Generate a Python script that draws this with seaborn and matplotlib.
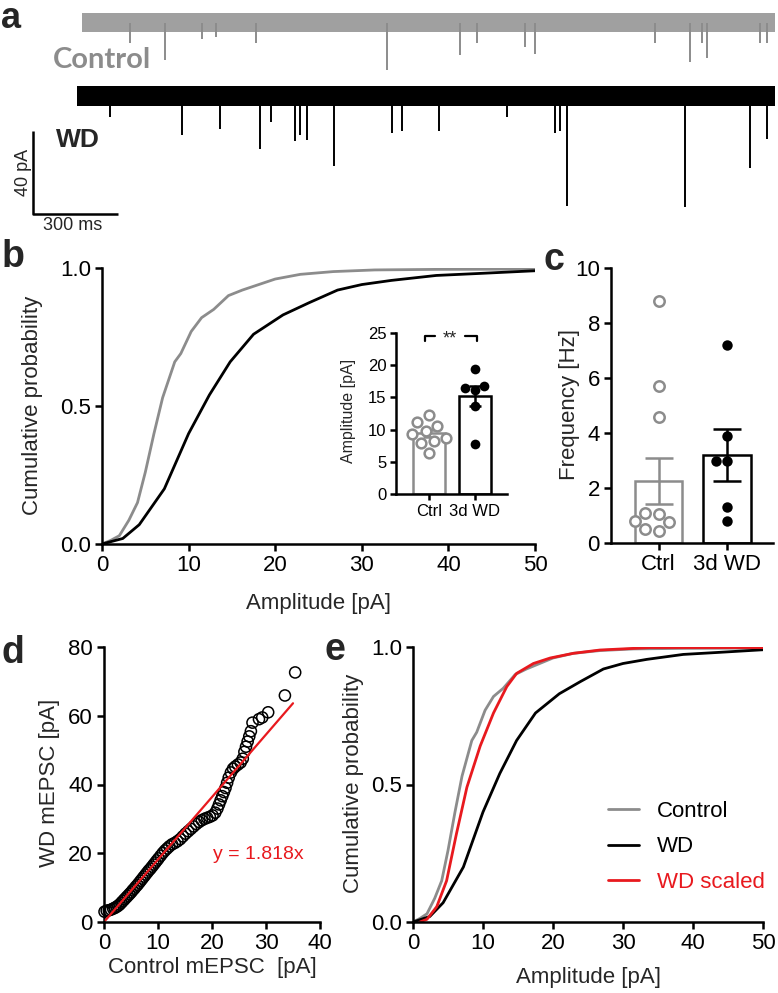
import matplotlib
matplotlib.use("Agg")
import matplotlib.pyplot as plt
import numpy as np
import pandas as pd
import seaborn as sns

# panel a: noise band extent and miniature events (ms, pA)
ctrl_trace_ms = [173, 2619]
ctrl_event_ms = [342, 466, 597, 646, 787, 1250, 1507, 1567, 1737, 1772, 2196, 2319, 2361, 2379, 2566, 2591]
ctrl_event_pa = [10, 18, 8, 7, 10, 23, 15.5, 10, 12, 15, 10, 19, 10, 17, 10, 10]
wd_trace_ms = [155, 2619]
wd_event_ms = [272, 526, 660, 801, 840, 925, 942, 967, 1062, 1267, 1302, 1433, 1673, 1843, 1860, 1885, 2301, 2531, 2591]
wd_event_pa = [10, 19, 16, 25.5, 12.5, 22, 19, 21.5, 34, 18, 17, 17, 10, 18, 17, 53, 53.5, 35, 21]

# panels b / e: cumulative amplitude distributions
ctrl_amp = [0, 1, 2, 3.1, 4.1, 5.0, 6.0, 7.0, 8.4, 9.1, 10.3, 11.5, 12.9, 14.6, 16.2, 18.1, 20.0, 22.9, 26.7, 31.5, 38.6, 50]
ctrl_cdf = [0, .013, .03, .086, .15, .26, .40, .53, .66, .69, .77, .82, .85, .90, .92, .94, .96, .977, .987, .993, .995, .996]
wd_amp = [0, 2.4, 4.3, 7.2, 10, 12.4, 14.8, 17.5, 20.9, 23.9, 27.2, 30, 33.4, 38.6, 43.4, 50]
wd_cdf = [0, .02, .07, .2, .4, .54, .66, .76, .83, .874, .92, .94, .955, .973, .98, .99]
scaled_amp = [1, 2, 3.4, 4.8, 6.2, 7.7, 9.6, 11.5, 13.4, 14.8, 17.2, 19.6, 22.9, 26.7, 33.9, 50]
scaled_cdf = [0, .01, .056, .15, .32, .49, .64, .76, .856, .904, .94, .96, .977, .989, .998, .998]

# inset of b: mean amplitude per cell
groups = ["Ctrl", "3d WD"]
amp_mean = [9.4, 15.2]
amp_sem = [0.6, 1.6]
amp_ctrl = [12.2, 11.2, 10.6, 9.8, 9.3, 8.7, 8.3, 7.9, 6.4]
amp_wd = [19.4, 16.8, 16.4, 16.2, 13.6, 7.8]

# panel c: frequency per cell
freq_mean = [2.25, 3.2]
freq_sem = [0.84, 0.93]
freq_ctrl = [8.8, 5.7, 4.6, 1.1, 1.05, 0.8, 0.75, 0.5, 0.45]
freq_wd = [7.2, 3.9, 3.0, 3.0, 1.3, 0.8]

# panel d: quantile-quantile pairs
qq_ctrl = [0.1, 0.5, 0.9, 1.3, 1.7, 2.0, 2.3, 2.6, 2.9, 3.2, 3.5, 3.8, 4.1, 4.4, 4.7, 5.0, 5.3, 5.6, 5.9,
           6.2, 6.5, 6.8, 7.1, 7.4, 7.7, 8.0, 8.3, 8.6, 8.9, 9.2, 9.5, 9.8, 10.1, 10.5, 10.9, 11.3, 11.7,
           12.1, 12.6, 13.1, 13.6, 14.1, 14.6, 15.1, 15.6, 16.1, 16.6, 17.1, 17.6, 18.1, 18.6, 19.1, 19.6,
           20.1, 20.6, 21.0, 21.3, 21.6, 21.9, 22.2, 22.5, 22.8, 23.1, 23.5, 23.9, 24.3, 24.8, 25.3, 25.7,
           26.0, 26.3, 26.6, 26.9, 27.2, 27.5, 28.7, 29.3, 30.4, 33.5, 35.4]
qq_wd = [3.0, 3.3, 3.4, 3.6, 3.9, 4.1, 4.4, 4.7, 5.1, 5.6, 6.1, 6.6, 7.1, 7.6, 8.1, 8.6, 9.2, 9.7, 10.3,
         10.8, 11.4, 12.0, 12.6, 13.2, 13.8, 14.4, 15.0, 15.5, 16.1, 16.7, 17.3, 17.9, 18.5, 19.3, 20.1, 20.8, 21.4,
         22.0, 22.6, 23.0, 23.5, 24.1, 24.9, 25.7, 26.4, 27.1, 27.8, 28.5, 29.1, 29.6, 30.0, 30.3, 30.6,
         31.0, 31.8, 33.0, 34.2, 35.4, 36.6, 37.8, 39.0, 40.5, 42.0, 43.5, 44.6, 45.2, 45.8, 46.4, 47.5,
         49.5, 51.0, 52.5, 54.0, 55.5, 58.0, 59.0, 59.5, 61.0, 65.9, 72.6]
fit_slope = 1.818
fit_x = [0.3, 35]

GRAY = "#8c8c8c"
RED = "#e8191e"

sns.set_theme(style="ticks")
plt.rcParams["font.family"] = ["Liberation Sans", "DejaVu Sans"]

W, H = 778, 993
fig = plt.figure(figsize=(W / 100, H / 100), dpi=100)


def box(x0, y0, x1, y1):
    return fig.add_axes([x0 / W, 1 - y1 / H, (x1 - x0) / W, (y1 - y0) / H])


def put(x, y, s, **kw):
    kw.setdefault("ha", "center"); kw.setdefault("va", "center")
    fig.text(x / W, 1 - y / H, s, **kw)


def style(ax, size=16, lw=1.8, length=5):
    sns.despine(ax=ax)
    for side in ("left", "bottom"):
        ax.spines[side].set_linewidth(lw)
        ax.spines[side].set_color("black")
    ax.tick_params(width=lw, length=length, labelsize=size, pad=3, colors="black")
    ax.set_xlabel(""); ax.set_ylabel("")


def letter(x, y, s, size=27):
    # y is the baseline
    put(x, y, s, weight="bold", fontsize=size, va="baseline")


# ---- a: example traces
ax = box(0, 0, 778, 235)
ax.set_xlim(-116.5, 2629.6); ax.set_ylim(-102.7, 10.9); ax.axis("off")
WD_OFFSET = -35.5
ax.fill_between(ctrl_trace_ms, -4.6, 4.6, color="#a0a0a0", lw=0)
ax.vlines(ctrl_event_ms, 0, -np.array(ctrl_event_pa), color=GRAY, lw=1.4)
ax.fill_between(wd_trace_ms, WD_OFFSET - 4.8, WD_OFFSET + 4.8, color="black", lw=0)
ax.vlines(wd_event_ms, WD_OFFSET, WD_OFFSET - np.array(wd_event_pa), color="black", lw=1.4)
ax.plot([0, 0, 300], [-52.5, -92.5, -92.5], color="black", lw=1.8, solid_capstyle="butt")
letter(11, 27.5, "a", size=26)
put(102, 68, "Control", family=["Lato", "DejaVu Sans"], weight="bold", fontsize=21, color=GRAY, va="baseline")
put(78, 147, "WD", weight="bold", fontsize=19, va="baseline")
put(23, 172, "40 pA", fontsize=13, rotation=90)
put(73, 226, "300 ms", fontsize=13)


def cdf(ax, amp, prob, color):
    sns.lineplot(x=amp, y=prob, color=color, lw=2, sort=False, estimator=None, ax=ax)


# ---- b: cumulative distributions
ax = box(102, 268, 535, 544)
cdf(ax, ctrl_amp, ctrl_cdf, GRAY)
cdf(ax, wd_amp, wd_cdf, "black")
ax.set_xlim(0, 50); ax.set_ylim(0, 1)
ax.set_xticks(range(0, 51, 10)); ax.set_yticks([0, 0.5, 1])
ax.set_yticklabels(["0.0", "0.5", "1.0"])
style(ax)
letter(13, 267, "b")
put(33, 405, "Cumulative probability", fontsize=16, rotation=90)
put(318, 603, "Amplitude [pA]", fontsize=16)


def bars(ax, mean, sem, ctrl, wd, size, capsize, lw):
    sns.barplot(x=groups, y=mean, hue=groups, palette=[GRAY, "black"], fill=False,
                linewidth=lw, width=0.7, legend=False, ax=ax)
    for i, c in enumerate([GRAY, "black"]):
        ax.errorbar(i, mean[i], yerr=sem[i], color=c, lw=lw, capsize=capsize, capthick=lw, zorder=3)
    pts = pd.DataFrame({"group": ["Ctrl"] * len(ctrl) + ["3d WD"] * len(wd), "value": ctrl + wd})
    sns.swarmplot(data=pts[pts.group == "Ctrl"], x="group", y="value", order=groups, color="white",
                  edgecolor=GRAY, linewidth=lw, size=size, ax=ax, zorder=4)
    sns.swarmplot(data=pts[pts.group == "3d WD"], x="group", y="value", order=groups, color="black",
                  size=size, ax=ax, zorder=4)


# ---- b inset: mean amplitude
ax = box(396, 333, 507, 494)
bars(ax, amp_mean, amp_sem, amp_ctrl, amp_wd, 7.0, 4, 1.8)
ax.set_xlim(-0.72, 1.7); ax.set_ylim(0, 25)
ax.set_yticks(range(0, 26, 5))
style(ax, size=12, length=4)
ax.plot([-0.09, -0.09, 0.13], [23.7, 24.5, 24.5], color="black", lw=1.6, clip_on=False)
ax.plot([0.78, 1.04, 1.04], [24.5, 24.5, 23.7], color="black", lw=1.6, clip_on=False)
ax.text(0.46, 24.0, "**", ha="center", va="center", fontsize=13)
put(348, 411, "Amplitude [pA]", fontsize=11.5, rotation=90)

# ---- c: frequency
ax = box(611, 268, 773, 543)
bars(ax, freq_mean, freq_sem, freq_ctrl, freq_wd, 7.5, 10, 1.8)
ax.set_xlim(-0.7, 1.68); ax.set_ylim(0, 10)
ax.set_yticks(range(0, 11, 2))
style(ax)
letter(554, 270, "c")
put(569, 405, "Frequency [Hz]", fontsize=16, rotation=90)

# ---- d: quantile-quantile
ax = box(104, 647, 320, 922)
sns.scatterplot(x=qq_ctrl, y=qq_wd, marker="o", s=64, facecolor="none", edgecolor="black",
                linewidth=1.1, ax=ax, zorder=3, clip_on=False)
sns.lineplot(x=fit_x, y=[fit_slope * v for v in fit_x], color=RED, lw=1.6, ax=ax, zorder=4)
ax.set_xlim(0, 40); ax.set_ylim(0, 80)
ax.set_xticks(range(0, 41, 10)); ax.set_yticks(range(0, 81, 20))
style(ax)
ax.text(28.6, 19.5, "y = 1.818x", color=RED, fontsize=14, ha="center", va="center")
letter(13, 663, "d")
put(50, 783, "WD mEPSC [pA]", fontsize=16, rotation=90)
put(212, 967, "Control mEPSC  [pA]", fontsize=16)

# ---- e: scaled distribution
ax = box(413, 647, 763, 922)
ax.plot(ctrl_amp, ctrl_cdf, color=GRAY, lw=2, label="Control")
ax.plot(wd_amp, wd_cdf, color="black", lw=2, label="WD")
ax.plot(scaled_amp, scaled_cdf, color=RED, lw=2, label="WD scaled")
ax.set_xlim(0, 50); ax.set_ylim(0, 1)
ax.set_xticks(range(0, 51, 10)); ax.set_yticks([0, 0.5, 1])
ax.set_yticklabels(["0.0", "0.5", "1.0"])
style(ax)
leg = ax.legend(frameon=False, loc="upper left", bbox_to_anchor=(0.557, 0.44), borderaxespad=0,
                borderpad=0, fontsize=16, handlelength=1.4, handletextpad=0.8, labelspacing=0.65)
for t, c in zip(leg.get_texts(), ["black", "black", RED]):
    t.set_color(c)
letter(335, 660, "e")
put(353, 783, "Cumulative probability", fontsize=16, rotation=90)
put(588, 978, "Amplitude [pA]", fontsize=16)

fig.savefig("out.png", dpi=100)
